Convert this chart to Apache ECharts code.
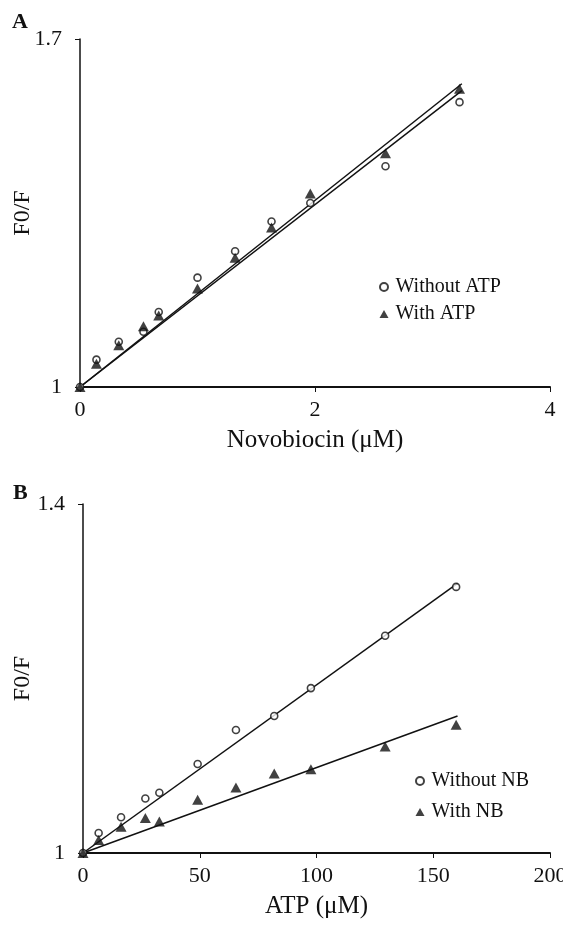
<!DOCTYPE html>
<html>
<head>
<meta charset="utf-8">
<script src="https://cdn.jsdelivr.net/npm/echarts@6/dist/echarts.min.js"></script>
<style>
  html, body { margin: 0; padding: 0; background: #fff; }
  #chart { width: 563px; height: 927px; }
</style>
</head>
<body>
<div id="chart"></div>
<script>
// Panel A: quenching vs novobiocin concentration
const novobiocinUM = [0, 0.14, 0.33, 0.54, 0.67, 1.0, 1.32, 1.63, 1.96, 2.6, 3.23];
const f0fWithoutATP = [1, 1.055, 1.091, 1.111, 1.151, 1.22, 1.273, 1.333, 1.370, 1.444, 1.573];
const f0fWithATP = [1, 1.047, 1.084, 1.122, 1.144, 1.198, 1.26, 1.321, 1.389, 1.470, 1.600];
const fitWithoutATP = [[0, 1], [3.25, 1.596]];
const fitWithATP = [[0, 1], [3.25, 1.610]];
const ticksA_x = [0, 2, 4];
const ticksA_y = [1, 1.7];

// Panel B: quenching vs ATP concentration
const atpUM = [0, 6.7, 16.3, 26.7, 32.7, 49.1, 65.5, 81.9, 97.6, 129.4, 159.8];
const f0fWithoutNB = [1, 1.023, 1.041, 1.0625, 1.069, 1.102, 1.141, 1.157, 1.189, 1.249, 1.305];
const f0fWithNB = [1, 1.015, 1.030, 1.040, 1.036, 1.061, 1.075, 1.091, 1.096, 1.122, 1.147];
const fitWithoutNB = [[0, 1], [160.4, 1.309]];
const fitWithNB = [[0, 1], [160.4, 1.157]];
const ticksB_x = [0, 50, 100, 150, 200];
const ticksB_y = [1, 1.4];

const FONT = 'Liberation Serif';
const INK = '#111';

const pairs = (xs, ys) => xs.map((x, i) => [x, ys[i]]);

function xAxisFor(gridIndex, ticks, name) {
  return {
    type: 'value', gridIndex,
    min: ticks[0], max: ticks[ticks.length - 1],
    interval: ticks[1] - ticks[0],
    name, nameLocation: 'middle', nameGap: 41, nameMoveOverlap: false,
    nameTextStyle: { fontFamily: FONT, fontSize: 25, color: INK },
    axisLine: { show: true, lineStyle: { color: INK, width: 2 } },
    axisTick: { show: true, length: 5, lineStyle: { color: INK, width: 1 } },
    axisLabel: { margin: 12, fontFamily: FONT, fontSize: 22, color: INK },
    splitLine: { show: false }
  };
}

function yAxisFor(gridIndex, ticks, gap) {
  return {
    type: 'value', gridIndex,
    min: ticks[0], max: ticks[ticks.length - 1],
    name: 'F0/F', nameLocation: 'middle', nameRotate: 90, nameGap: gap, nameMoveOverlap: false,
    nameTextStyle: { fontFamily: FONT, fontSize: 24, color: INK },
    axisLine: { show: true, lineStyle: { color: INK, width: 1.5 } },
    axisTick: { show: true, length: 5, customValues: ticks, lineStyle: { color: INK, width: 1 } },
    axisLabel: { margin: 18, fontFamily: FONT, fontSize: 22, color: INK, customValues: ticks },
    splitLine: { show: false }
  };
}

const openCircle = {
  symbol: 'circle', symbolSize: 7,
  itemStyle: { color: '#fff', borderColor: INK, borderWidth: 1.6 }
};
const solidTriangle = {
  symbol: 'triangle', symbolSize: [11, 10],
  itemStyle: { color: INK }
};

function scatter(name, xi, yi, data, style) {
  return Object.assign({
    type: 'scatter', name, xAxisIndex: xi, yAxisIndex: yi, data, z: 3
  }, style);
}

function fitLine(xi, yi, data) {
  return {
    type: 'line', xAxisIndex: xi, yAxisIndex: yi, data,
    showSymbol: false, symbol: 'none', silent: true, z: 2,
    lineStyle: { color: INK, width: 1.5 }
  };
}

function legendFor(names, left, top, gap) {
  return {
    orient: 'vertical', left, top, padding: 0, itemGap: gap,
    itemWidth: 9, itemHeight: 8,
    data: names,
    textStyle: { fontFamily: FONT, fontSize: 20, color: INK, padding: [0, 0, 0, 2] }
  };
}

const chart = echarts.init(document.getElementById('chart'), null, { renderer: 'canvas' });
chart.setOption({
  animation: false,
  backgroundColor: '#fff',
  grid: [
    { left: 80, right: 13, top: 39, height: 348, outerBoundsMode: 'none', containLabel: false },
    { left: 83, right: 13, top: 504, height: 349, outerBoundsMode: 'none', containLabel: false }
  ],
  xAxis: [
    xAxisFor(0, ticksA_x, 'Novobiocin (\u03bcM)'),
    xAxisFor(1, ticksB_x, 'ATP (\u03bcM)')
  ],
  yAxis: [
    yAxisFor(0, ticksA_y, 45),
    yAxisFor(1, ticksB_y, 48)
  ],
  legend: [
    legendFor(['Without ATP', 'With ATP'], 379, 277, 7),
    legendFor(['Without NB', 'With NB'], 415, 771, 11)
  ],
  graphic: [
    { type: 'text', left: 12, top: 11, style: { text: 'A', fontFamily: FONT, fontSize: 22, fontWeight: 'bold', fill: INK } },
    { type: 'text', left: 13, top: 482, style: { text: 'B', fontFamily: FONT, fontSize: 22, fontWeight: 'bold', fill: INK } }
  ],
  series: [
    fitLine(0, 0, fitWithoutATP),
    fitLine(0, 0, fitWithATP),
    scatter('Without ATP', 0, 0, pairs(novobiocinUM, f0fWithoutATP), openCircle),
    scatter('With ATP', 0, 0, pairs(novobiocinUM, f0fWithATP), solidTriangle),
    fitLine(1, 1, fitWithoutNB),
    fitLine(1, 1, fitWithNB),
    scatter('Without NB', 1, 1, pairs(atpUM, f0fWithoutNB), openCircle),
    scatter('With NB', 1, 1, pairs(atpUM, f0fWithNB), solidTriangle)
  ]
});
</script>
</body>
</html>
